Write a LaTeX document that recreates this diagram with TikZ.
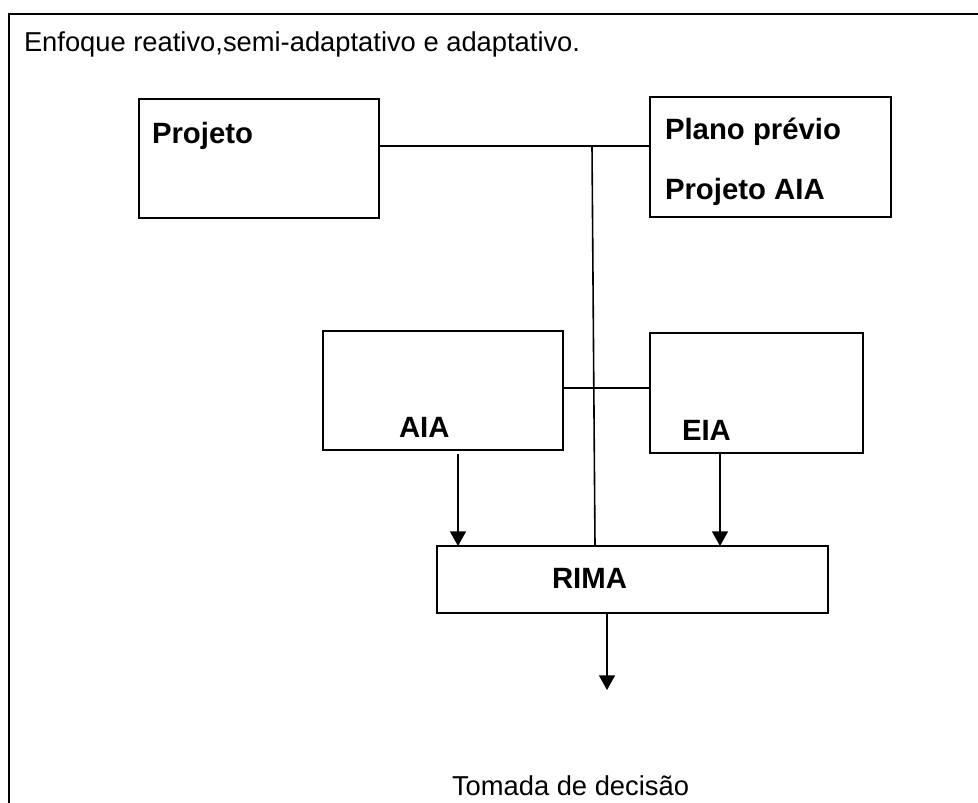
\documentclass[tikz,border=0pt]{standalone}
\usepackage{fontspec}
\setmainfont{Liberation Sans}
\usetikzlibrary{arrows.meta}
\tikzset{
  box/.style={draw, line width=1.4pt, rectangle, inner sep=0pt, outer sep=0pt},
  lbl/.style={inner sep=0pt, outer sep=0pt, anchor=base west, font=\fontsize{22}{26}\selectfont\bfseries},
  txt/.style={inner sep=0pt, outer sep=0pt, anchor=base west, font=\fontsize{20.5}{24}\selectfont},
  conn/.style={line width=1.2pt},
  arr/.style={line width=1.2pt, -{Triangle[length=11pt,width=12pt]}},
  frame/.style={line width=1.5pt}
}
\begin{document}
\begin{tikzpicture}[x=0.75pt,y=-0.75pt]
\useasboundingbox (0,0) rectangle (978,803);
% outer frame (open at right and bottom)
\coordinate (fbl) at (9,803);
\coordinate (ftl) at (9,14);
\coordinate (ftr) at (978,14);
\draw[frame] (fbl) -- (ftl) -- (ftr);
\node[txt] (head) at (24,51) {Enfoque reativo,semi-adaptativo e adaptativo.};
% boxes
\node[box, minimum width=180pt, minimum height=89.25pt] (projeto) at (259,158.5) {};
\node[box, minimum width=180.75pt, minimum height=90pt] (plano) at (770.5,157) {};
\node[box, minimum width=180pt, minimum height=89.25pt] (aia) at (443,390.5) {};
\node[box, minimum width=159.75pt, minimum height=90pt] (eia) at (756.5,393) {};
\node[box, minimum width=293.25pt, minimum height=50.25pt] (rima) at (632.5,579.5) {};
% labels
\node[lbl] (tprojeto) at (152,143) {Projeto};
\node[lbl] (tplano) at (665,139) {Plano prévio};
\node[lbl] (tpaia) at (665,199) {Projeto AIA};
\node[lbl] (taia) at (399,437) {AIA};
\node[lbl] (teia) at (682,440) {EIA};
\node[lbl] (trima) at (552,588) {RIMA};
\node[txt] (decisao) at (452,795) {Tomada de decisão};
% connectors
\coordinate (j1) at (592,146);
\coordinate (j2) at (595,546);
\draw[conn] (projeto.east |- j1) -- (plano.west |- j1);
\draw[conn] (j1) -- (j2);
\coordinate (j3) at (563,388);
\draw[conn] (aia.east |- j3) -- (eia.west |- j3);
\coordinate (a1) at (458,454);
\coordinate (a2) at (720,454);
\draw[arr] (a1) -- (a1 |- rima.north);
\draw[arr] (a2) -- (a2 |- rima.north);
\coordinate (out) at (607,690);
\draw[arr] (rima.south -| out) -- (out);
\end{tikzpicture}
\end{document}
